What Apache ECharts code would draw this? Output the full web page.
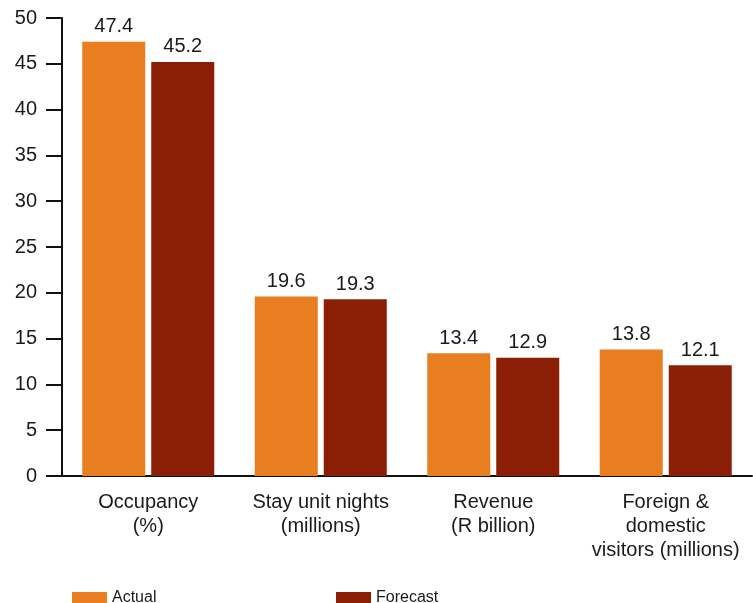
<!DOCTYPE html>
<html>
<head>
<meta charset="utf-8">
<script src="https://cdn.jsdelivr.net/npm/echarts@6/dist/echarts.min.js"></script>
<style>html,body{margin:0;padding:0;background:#fff}#c{width:753px;height:603px}</style>
</head>
<body>
<div id="c"></div>
<script>
var categories = ["Occupancy\n(%)", "Stay unit nights\n(millions)", "Revenue\n(R billion)", "Foreign &\ndomestic\nvisitors (millions)"];
var actual = [47.4, 19.6, 13.4, 13.8];
var forecast = [45.2, 19.3, 12.9, 12.1];
var yTicks = [0, 5, 10, 15, 20, 25, 30, 35, 40, 45, 50];

var font = "'Liberation Sans', Arial, sans-serif";
var chart = echarts.init(document.getElementById('c'));
var labelStyle = {show: true, position: 'top', distance: 5, color: '#1a1a1a', fontSize: 20, fontFamily: font, formatter: function(p){return p.value.toFixed(1);}};
chart.setOption({
  animation: false,
  grid: {left: 62, right: 1, top: 18, bottom: 127, containLabel: false},
  legend: [
    {data: ['Actual'], left: 67, top: 585, itemWidth: 35, itemHeight: 12, itemGap: 5, textStyle: {fontSize: 16, color: '#1a1a1a', fontFamily: font}, icon: 'rect'},
    {data: ['Forecast'], left: 331, top: 585, itemWidth: 35, itemHeight: 12, itemGap: 5, textStyle: {fontSize: 16, color: '#1a1a1a', fontFamily: font}, icon: 'rect'}
  ],
  xAxis: {
    type: 'category', data: categories,
    axisLine: {lineStyle: {color: '#111', width: 2}},
    axisTick: {length: 12, lineStyle: {color: '#111', width: 2}},
    axisLabel: {color: '#1a1a1a', fontSize: 20, fontFamily: font, lineHeight: 24, margin: 14, interval: 0}
  },
  yAxis: {
    type: 'value', min: yTicks[0], max: yTicks[yTicks.length-1], interval: 5,
    axisLine: {show: true, lineStyle: {color: '#111', width: 2}},
    axisTick: {show: true, length: 16, lineStyle: {color: '#111', width: 2}},
    splitLine: {show: false},
    axisLabel: {color: '#1a1a1a', fontSize: 20, fontFamily: font, margin: 25}
  },
  series: [
    {name: 'Actual', type: 'bar', data: actual, barWidth: 63, barGap: '9.5%', itemStyle: {color: '#E87E20'}, label: labelStyle},
    {name: 'Forecast', type: 'bar', data: forecast, barWidth: 63, itemStyle: {color: '#8B1F05'}, label: labelStyle}
  ]
});
</script>
</body>
</html>
